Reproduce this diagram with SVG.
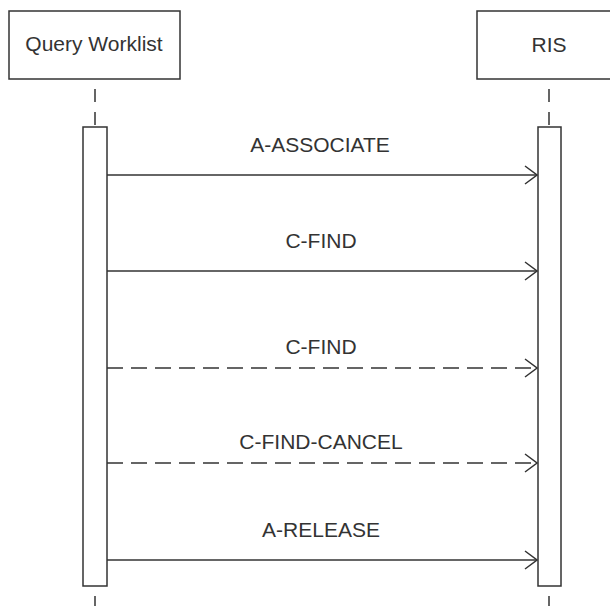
<svg xmlns="http://www.w3.org/2000/svg" width="610" height="606" viewBox="0 0 610 606">
<defs>
<style>
.box{fill:#fff;stroke:#333;stroke-width:1.5}
.life{stroke:#333;stroke-width:1.5;stroke-dasharray:13 10;fill:none}
.msg{stroke:#333;stroke-width:1.5;fill:none}
.dash{stroke-dasharray:16 8}
.lbl{font-family:"Liberation Sans",Arial,sans-serif;font-size:21px;fill:#333;text-anchor:middle}
.hd{font-family:"Liberation Sans",Arial,sans-serif;font-size:21px;fill:#333;text-anchor:middle}
</style>
<marker id="arr" markerWidth="14" markerHeight="20" refX="13" refY="10" orient="auto" markerUnits="userSpaceOnUse">
<path d="M1,1 L13,10 L1,19" fill="none" stroke="#333" stroke-width="1.5"/>
</marker>
</defs>
<rect width="610" height="606" fill="#fff"/>
<g id="qw">
<rect class="box" x="9" y="11" width="171" height="68"/>
<text class="hd" x="94" y="51">Query Worklist</text>
<line class="life" x1="95" y1="89" x2="95" y2="127"/>
<rect class="box" x="83" y="127" width="24" height="459"/>
<line class="life" x1="95" y1="596" x2="95" y2="606"/>
</g>
<g id="ris">
<rect class="box" x="477" y="11" width="140" height="68"/>
<text class="hd" x="549" y="52">RIS</text>
<line class="life" x1="549" y1="89" x2="549" y2="127"/>
<rect class="box" x="538" y="127" width="23" height="459"/>
<line class="life" x1="549" y1="596" x2="549" y2="606"/>
</g>
<g id="connectors">
<line class="msg" x1="107" y1="175" x2="537" y2="175" marker-end="url(#arr)"/>
<text class="lbl" x="320" y="152">A-ASSOCIATE</text>
<line class="msg" x1="107" y1="271" x2="537" y2="271" marker-end="url(#arr)"/>
<text class="lbl" x="321" y="248">C-FIND</text>
<line class="msg dash" x1="107" y1="368" x2="537" y2="368" marker-end="url(#arr)"/>
<text class="lbl" x="321" y="354">C-FIND</text>
<line class="msg dash" x1="107" y1="463" x2="537" y2="463" marker-end="url(#arr)"/>
<text class="lbl" x="321" y="449">C-FIND-CANCEL</text>
<line class="msg" x1="107" y1="560" x2="537" y2="560" marker-end="url(#arr)"/>
<text class="lbl" x="321" y="537">A-RELEASE</text>
</g>
</svg>
